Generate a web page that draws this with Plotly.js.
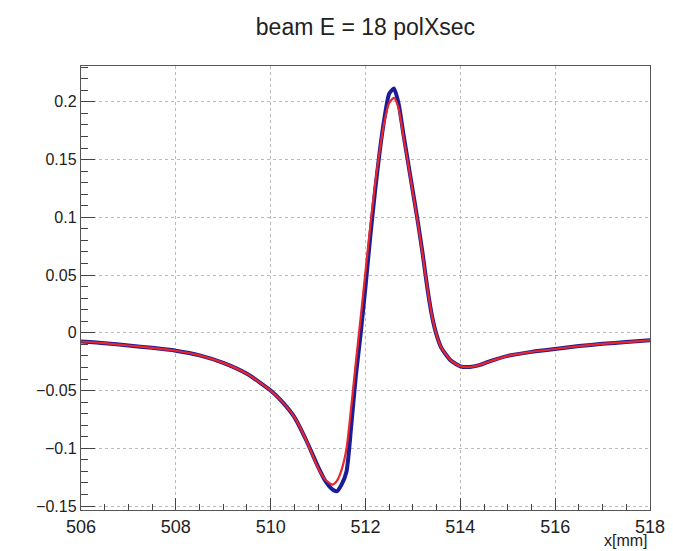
<!DOCTYPE html>
<html>
<head>
<meta charset="utf-8">
<script src="https://cdn.plot.ly/plotly-3.0.1.min.js"></script>
<style>html,body{margin:0;padding:0;background:#fff;}#chart{width:673px;height:551px;}</style>
</head>
<body>
<div id="chart"></div>
<script>
const xBlue = [506, 506.5, 507, 507.5, 508, 508.5, 509, 509.5, 510, 510.25, 510.5, 510.75, 511, 511.15, 511.3, 511.4, 511.5, 511.6, 511.7, 511.8, 511.9, 512, 512.1, 512.2, 512.3, 512.4, 512.5, 512.6, 512.7, 512.8, 512.9, 513, 513.1, 513.2, 513.3, 513.4, 513.5, 513.6, 513.8, 514, 514.2, 514.4, 514.6, 515, 515.5, 516, 516.5, 517, 517.5, 518];
const yBlue = [-0.0075, -0.009, -0.011, -0.013, -0.0155, -0.0195, -0.026, -0.0355, -0.050, -0.060, -0.073, -0.093, -0.116, -0.128, -0.1355, -0.137, -0.131, -0.120, -0.080, -0.036, 0.000, 0.040, 0.083, 0.122, 0.157, 0.186, 0.207, 0.2115, 0.198, 0.172, 0.147, 0.122, 0.097, 0.070, 0.040, 0.015, -0.002, -0.013, -0.024, -0.029, -0.0296, -0.028, -0.025, -0.020, -0.0165, -0.014, -0.0115, -0.0095, -0.008, -0.0065];
const xRed = [506, 506.5, 507, 507.5, 508, 508.5, 509, 509.5, 510, 510.25, 510.5, 510.75, 511, 511.15, 511.3, 511.4, 511.5, 511.6, 511.7, 511.8, 511.9, 512, 512.1, 512.2, 512.3, 512.4, 512.5, 512.6, 512.7, 512.8, 512.9, 513, 513.1, 513.2, 513.3, 513.4, 513.5, 513.6, 513.8, 514, 514.2, 514.4, 514.6, 515, 515.5, 516, 516.5, 517, 517.5, 518];
const yRed = [-0.0075, -0.009, -0.011, -0.013, -0.0155, -0.0195, -0.026, -0.0355, -0.050, -0.060, -0.073, -0.093, -0.117, -0.127, -0.1315, -0.128, -0.118, -0.100, -0.064, -0.024, 0.014, 0.053, 0.092, 0.128, 0.158, 0.183, 0.199, 0.2035, 0.194, 0.170, 0.146, 0.121, 0.096, 0.069, 0.040, 0.015, -0.002, -0.013, -0.024, -0.029, -0.0296, -0.028, -0.025, -0.020, -0.0165, -0.014, -0.0115, -0.0095, -0.008, -0.0065];
const xTicks = [506, 508, 510, 512, 514, 516, 518];
const yTicks = [-0.15, -0.1, -0.05, 0, 0.05, 0.1, 0.15, 0.2];

const fontFam = '"Liberation Sans", Arial, Helvetica, sans-serif';
const traces = [
  {x: xBlue, y: yBlue, type: 'scatter', mode: 'lines', line: {color: '#1c1c96', width: 4, shape: 'spline', smoothing: 0.6}, name: 'blue', showlegend: false},
  {x: xRed, y: yRed, type: 'scatter', mode: 'lines', line: {color: '#e8262b', width: 2.2, shape: 'spline', smoothing: 0.6}, name: 'red', showlegend: false}
];
const layout = {
  width: 673, height: 551,
  margin: {l: 81, r: 23, t: 66, b: 41},
  paper_bgcolor: '#fff', plot_bgcolor: '#fff',
  font: {family: fontFam, color: '#222', size: 16},
  title: {text: 'beam E = 18 polXsec', x: 0.543, xanchor: 'center', y: 0.951, yanchor: 'middle', yref: 'container', font: {family: fontFam, size: 23, color: '#222'}},
  xaxis: {
    range: [506, 518], tickvals: xTicks, ticks: 'inside', ticklen: 12, tickwidth: 1, tickcolor: '#444',
    showline: true, linecolor: '#555', linewidth: 1.2, mirror: true,
    showgrid: true, gridcolor: '#bbb', griddash: 'dot', gridwidth: 1, zeroline: false,
    tickfont: {family: fontFam, size: 18, color: '#222'},
    minor: {dtick: 0.5, tick0: 506, ticks: 'inside', ticklen: 6, tickcolor: '#444', showgrid: false}
  },
  yaxis: {
    range: [-0.1534, 0.231], tickvals: yTicks, ticks: 'inside', ticklen: 14, tickwidth: 1, tickcolor: '#444',
    showline: true, linecolor: '#555', linewidth: 1.2, mirror: true,
    showgrid: true, gridcolor: '#bbb', griddash: 'dot', gridwidth: 1, zeroline: false,
    tickfont: {family: fontFam, size: 16, color: '#222'},
    minor: {dtick: 0.01, tick0: 0, ticks: 'inside', ticklen: 7, tickcolor: '#444', showgrid: false}
  },
  annotations: [
    {text: 'x[mm]', xref: 'paper', yref: 'paper', x: 1.0, y: -0.068, xanchor: 'right', yanchor: 'middle', showarrow: false, font: {family: fontFam, size: 16, color: '#222'}}
  ]
};
Plotly.newPlot('chart', traces, layout, {displayModeBar: false, staticPlot: true});
</script>
</body>
</html>
